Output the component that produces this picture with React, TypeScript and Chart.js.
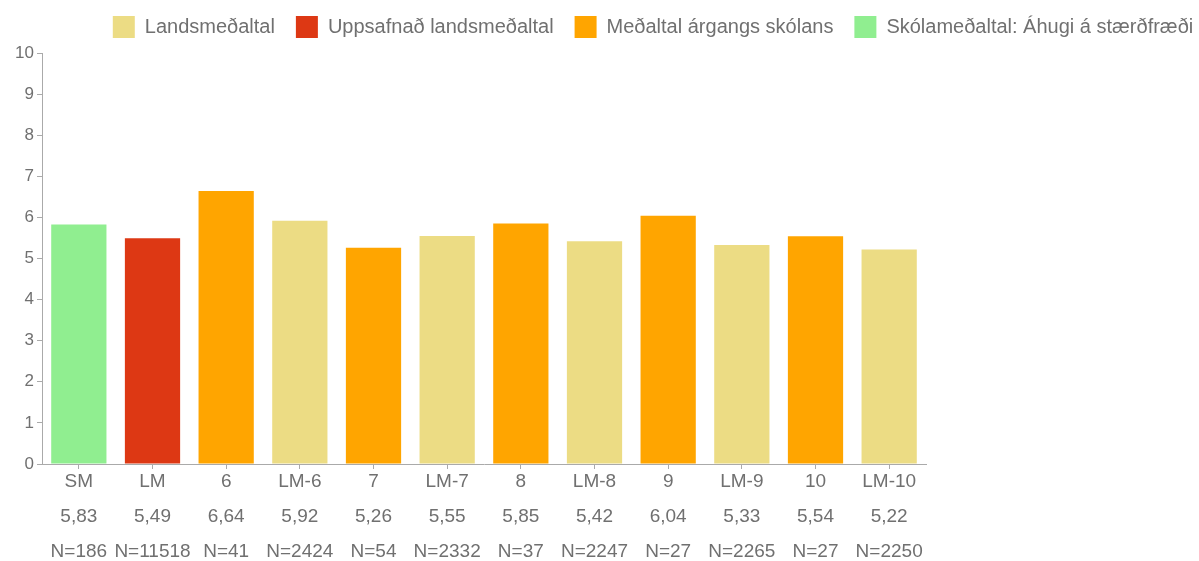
import React, { useEffect, useRef } from "react";
import { Chart, registerables } from "chart.js";

Chart.register(...registerables);

const categories = ["SM", "LM", "6", "LM-6", "7", "LM-7", "8", "LM-8", "9", "LM-9", "10", "LM-10"];
const values = [5.83, 5.49, 6.64, 5.92, 5.26, 5.55, 5.85, 5.42, 6.04, 5.33, 5.54, 5.22];
const counts = [186, 11518, 41, 2424, 54, 2332, 37, 2247, 27, 2265, 27, 2250];
const kinds = [3, 1, 2, 0, 2, 0, 2, 0, 2, 0, 2, 0];
const legendLabels = ["Landsmeðaltal", "Uppsafnað landsmeðaltal", "Meðaltal árgangs skólans", "Skólameðaltal: Áhugi á stærðfræði"];
const legendColors = ["#ECDC84", "#DD3814", "#FFA500", "#90EE90"];
const yTicks = [0, 1, 2, 3, 4, 5, 6, 7, 8, 9, 10];

const FONT = "'Liberation Sans', Arial, sans-serif";
const TEXT = "#707070";

const legendMargin = {
  id: "legendMargin",
  beforeInit(chart: any) {
    const legend = chart.legend;
    if (!legend) return;
    const origFit = legend.fit;
    legend.fit = function () {
      origFit.call(this);
      this.height += 5;
    };
  },
};

export default function App() {
  const ref = useRef<HTMLCanvasElement>(null);
  useEffect(() => {
    if (!ref.current) return;
    const labels = categories.map((c, i) => [c, values[i].toFixed(2).replace(".", ","), "N=" + counts[i]]);
    const chart = new Chart(ref.current, {
      type: "bar",
      data: {
        labels,
        datasets: [
          {
            data: values,
            backgroundColor: kinds.map((k) => legendColors[k]),
            barPercentage: 0.75,
            categoryPercentage: 1,
            yAxisID: "y",
          },
        ],
      },
      plugins: [legendMargin],
      options: {
        animation: false,
        responsive: true,
        maintainAspectRatio: false,
        plugins: {
          tooltip: { enabled: false },
          legend: {
            display: true,
            position: "top",
            align: "center",
            labels: {
              boxWidth: 22,
              boxHeight: 22,
              padding: 21,
              color: TEXT,
              font: { family: FONT, size: 20 },
              generateLabels: () =>
                legendLabels.map((t, i) => ({
                  text: t,
                  fillStyle: legendColors[i],
                  strokeStyle: legendColors[i],
                  fontColor: TEXT,
                  lineWidth: 0,
                  hidden: false,
                  datasetIndex: 0,
                })),
            },
            onClick: () => {},
          },
        },
        scales: {
          x: {
            grid: { display: true, offset: false, drawOnChartArea: false, drawTicks: true, tickLength: 5, color: "#aaa" },
            border: { display: true, color: "#aaa" },
            ticks: { color: TEXT, font: { family: FONT, size: 19, lineHeight: 35 / 19 }, maxRotation: 0, autoSkip: false, padding: -4.5 },
          },
          y: {
            min: 0,
            max: 10,
            position: "left",
            afterBuildTicks: (axis: any) => {
              axis.ticks = yTicks.map((v) => ({ value: v }));
            },
            afterFit: (axis: any) => {
              axis.width = 34;
            },
            grid: { display: true, drawOnChartArea: false, drawTicks: true, tickLength: 5, color: "#aaa" },
            border: { display: true, color: "#aaa" },
            ticks: { color: TEXT, font: { family: FONT, size: 17 }, padding: 3 },
          },
          spacer: {
            type: "linear",
            position: "right",
            display: true,
            afterFit: (axis: any) => {
              axis.width = 372;
            },
            grid: { display: false },
            border: { display: false },
            ticks: { display: false },
          },
        },
      },
    });
    return () => chart.destroy();
  }, []);
  return (
    <div style={{ position: "fixed", left: "8px", top: "-5px", width: "1290px", height: "570px" }}>
      <canvas ref={ref} />
    </div>
  );
}
